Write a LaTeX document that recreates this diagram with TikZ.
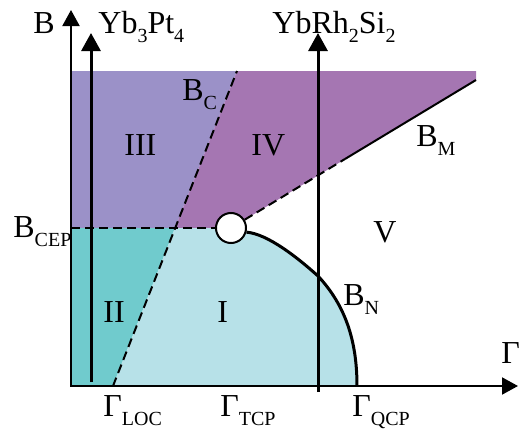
\documentclass[tikz,border=0pt]{standalone}
\usepackage{fontspec}
\setmainfont{Liberation Serif}
\usepackage{xcolor}
\usetikzlibrary{arrows.meta}
\definecolor{phaseI}{HTML}{B7E1E8}
\definecolor{phaseII}{HTML}{70CBCD}
\definecolor{phaseIII}{HTML}{9B91C8}
\definecolor{phaseIV}{HTML}{A576B2}
\newcommand{\lsub}[1]{\raisebox{-4.5pt}{\fontsize{10}{10}\selectfont #1}}

\begin{document}
\begin{tikzpicture}[
          x=0.5pt, y=-0.5pt,
          lbl/.style={font=\fontsize{16}{16}\selectfont, inner sep=0pt, anchor=base west},
          axis/.style={line width=1pt, {Triangle[length=8pt,width=8.5pt]}-{Triangle[length=8pt,width=8.5pt]}},
          probe/.style={line width=1.5pt, -{Triangle[length=9pt,width=9.5pt]}},
          bnd/.style={line width=1pt, dash pattern=on 4.5pt off 2.5pt},
          cepdot/.style={circle, draw, line width=1pt, fill=white, minimum size=15pt, inner sep=0pt}
      ]
        \useasboundingbox (0,0) rectangle (526,429);

        % Key points
        \coordinate (O) at (71,386);
        \coordinate (Bend) at (71,10);
        \coordinate (Gend) at (518,386);
        \coordinate (loc) at (113,386);
        \coordinate (qcp) at (357,386);
        \coordinate (bctop) at (237,71);
        \coordinate (bcmid) at (175,228);
        \coordinate (cepL) at (71,228);
        \coordinate (topL) at (71,71);
        \coordinate (topR) at (476,71);
        \coordinate (bmR) at (476,80);
        \coordinate (bmK) at (345,159);
        \coordinate (cep) at (231,228);
        \coordinate (bnS) at (245,232);
        \coordinate (bnM) at (318,276);

        % Phases
        \fill[phaseIII] (topL) -- (bctop) -- (bcmid) -- (cepL) -- cycle;
        \fill[phaseIV] (bctop) -- (topR) -- (bmR) -- (cep) -- (bcmid) -- cycle;
        \fill[phaseII] (O) -- (loc) -- (bcmid) -- (cepL) -- cycle;
        \fill[phaseI] (loc) -- (bcmid) -- (cep) -- (bnS)
          .. controls (268,234) and (298,258) .. (bnM)
          .. controls (345,305) and (357,340) .. (qcp) -- cycle;

        % Critical end point
        \node[cepdot] (cp) at (cep) {};

        % Phase boundaries
        \draw[bnd] (cepL) -- (cp.west);
        \draw[bnd] (loc) -- (bctop);
        \draw[bnd] (cp) -- (bmK);
        \draw[line width=1pt] (bmK) -- (bmR);
        \draw[line width=1.5pt] (cp.-15)
          .. controls (268,234) and (298,258) .. (bnM)
          .. controls (345,305) and (357,340) .. (qcp);

        % Axes
        \draw[axis] (Bend) -- (O) -- (Gend);

        % Compounds
        \coordinate (yb3S) at (91,382);
        \coordinate (yb3E) at (91,33);
        \coordinate (ybrS) at (318,392);
        \coordinate (ybrE) at (318,33);
        \draw[probe] (yb3S) -- (yb3E);
        \draw[probe] (ybrS) -- (ybrE);

        % Labels
        \node[lbl] (lblB) at (33,33) {B};
        \node[lbl] (lblYbPt) at (98,33) {Yb\lsub{3}Pt\lsub{4}};
        \node[lbl] (lblYbRh) at (272,33) {YbRh\lsub{2}Si\lsub{2}};
        \node[lbl] (lblBC) at (182,100) {B\lsub{C}};
        \node[lbl] (lblIII) at (124,155) {III};
        \node[lbl] (lblIV) at (251,155) {IV};
        \node[lbl] (lblBM) at (416,146) {B\lsub{M}};
        \node[lbl] (lblV) at (373,242) {V};
        \node[lbl] (lblBCEP) at (13,237) {B\lsub{CEP}};
        \node[lbl] (lblII) at (103,322) {II};
        \node[lbl] (lblI) at (217,322) {I};
        \node[lbl] (lblBN) at (343,305) {B\lsub{N}};
        \node[lbl] (lblG) at (501,363) {Γ};
        \node[lbl] (lblLOC) at (103,416) {Γ\lsub{LOC}};
        \node[lbl] (lblTCP) at (220,416) {Γ\lsub{TCP}};
        \node[lbl] (lblQCP) at (352,416) {Γ\lsub{QCP}};
      \end{tikzpicture}
\end{document}
